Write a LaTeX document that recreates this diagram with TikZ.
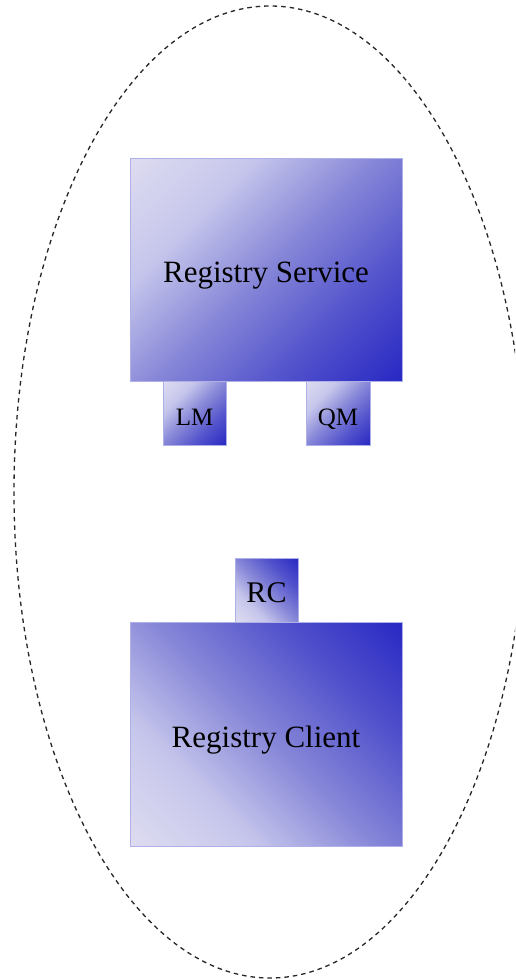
\documentclass[tikz,border=0pt]{standalone}
\usepackage{fontspec}
\setmainfont{Liberation Serif}
\definecolor{lite}{HTML}{DEDCF0}
\definecolor{semi}{HTML}{C6C6EC}
\definecolor{mid}{HTML}{8686D8}
\definecolor{deep}{HTML}{5252CC}
\definecolor{dark}{HTML}{2828C4}
\definecolor{edge}{HTML}{B0B0E8}
\definecolor{ell}{HTML}{262626}
\pgfdeclareverticalshading{diagLD}{100bp}{color(0bp)=(dark); color(14.6bp)=(dark); color(32.3bp)=(deep); color(50bp)=(mid); color(67.7bp)=(semi); color(85.4bp)=(lite); color(100bp)=(lite)}
\pgfdeclareverticalshading{diagDL}{100bp}{color(0bp)=(lite); color(14.6bp)=(lite); color(32.3bp)=(semi); color(50bp)=(mid); color(67.7bp)=(deep); color(85.4bp)=(dark); color(100bp)=(dark)}
\begin{document}
\begin{tikzpicture}[x=1pt,y=-1pt,
  box/.style={rectangle, draw=edge, line width=0.6pt, inner sep=0pt, outer sep=0pt, text depth=0pt},
  tldark/.style={box, shading=diagLD, shading angle=45},
  trdark/.style={box, shading=diagDL, shading angle=-45},
  bigtext/.style={font=\fontsize{31}{36}\selectfont, text height=26pt},
  smalltext/.style={font=\fontsize{25}{30}\selectfont, text height=24pt},
  rctext/.style={font=\fontsize{30}{36}\selectfont, text height=24pt},
  boundary/.style={draw=ell, line width=1.3pt, dash pattern=on 4.5pt off 4pt}
]
\useasboundingbox (0,0) rectangle (515,980);
\clip (0,0) rectangle (515,980);
\fill[white] (0,0) rectangle (515,980);
\draw[boundary] (270,492) ellipse [x radius=256, y radius=486];
\node[tldark, bigtext, minimum width=272pt, minimum height=223pt] (rs) at (266,269.5) {Registry Service};
\node[tldark, smalltext, minimum width=63pt, minimum height=64pt, anchor=north] (lm) at (194.5,381) {LM};
\node[tldark, smalltext, minimum width=64pt, minimum height=64pt, anchor=north] (qm) at (338,381) {QM};
\node[trdark, bigtext, minimum width=272pt, minimum height=224pt] (rcl) at (266,734) {Registry Client};
\node[trdark, rctext, minimum width=63pt, minimum height=64pt, anchor=south] (rc) at (266.5,622) {RC};
\end{tikzpicture}
\end{document}
